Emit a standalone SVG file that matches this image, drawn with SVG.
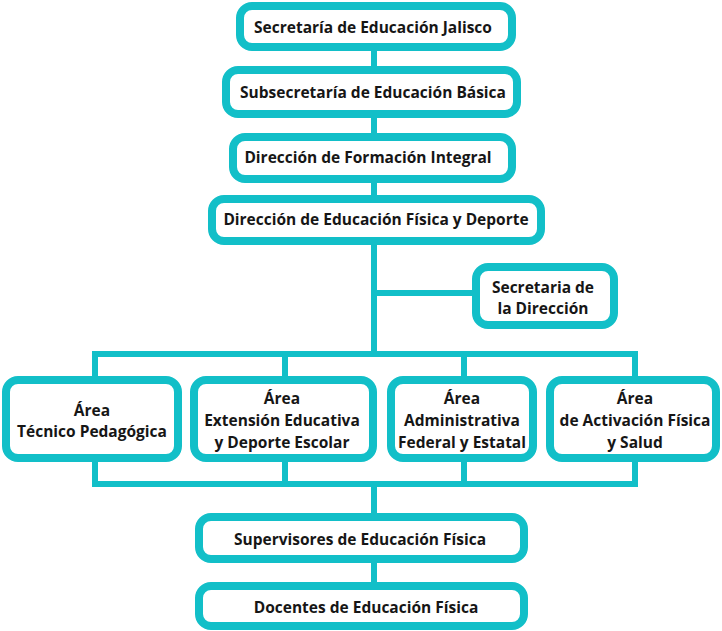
<svg xmlns="http://www.w3.org/2000/svg" width="722" height="631" viewBox="0 0 722 631">
<style>
.box{fill:#fff;stroke:#12BFC8;stroke-width:8}
.ln{fill:none;stroke:#12BFC8;stroke-width:6}
text{font-family:"Open Sans","Noto Sans","DejaVu Sans",sans-serif;font-weight:700;font-size:15.5px;fill:#161616;text-anchor:middle;dominant-baseline:central}
</style>
<rect width="722" height="631" fill="#fff"/>
<g id="connectors">
<path class="ln" d="M374 50V70M374 118V137M374 183V199M374 245V354M374 293H476M95 354H635M95 351V380M285 351V380M464 351V380M635 351V380"/>
<path class="ln" d="M95 458V484M285 458V484M464 458V484M635 458V484M92 484H638M374 484V517M374 563V586"/>
</g>
<g id="n1"><rect class="box" x="240" y="6" width="272" height="41" rx="12"/><text x="373" y="27">Secretaría de Educación Jalisco</text></g>
<g id="n2"><rect class="box" x="226" y="70" width="291" height="44" rx="12"/><text x="373" y="92">Subsecretaría de Educación Básica</text></g>
<g id="n3"><rect class="box" x="233" y="137" width="279" height="42" rx="12"/><text x="368" y="157">Dirección de Formación Integral</text></g>
<g id="n4"><rect class="box" x="212" y="199" width="329" height="42" rx="12"/><text x="376" y="219">Dirección de Educación Física y Deporte</text></g>
<g id="n5"><rect class="box" x="476" y="267" width="138" height="58" rx="12"/><text x="543" y="287">Secretaria de</text><text x="543" y="308">la Dirección</text></g>
<g id="a1"><rect class="box" x="6" y="380" width="172" height="78" rx="12"/><text x="92" y="410">Área</text><text x="92" y="431">Técnico Pedagógica</text></g>
<g id="a2"><rect class="box" x="194" y="380" width="179" height="78" rx="12"/><text x="282" y="398">Área</text><text x="282" y="420">Extensión Educativa</text><text x="282" y="442">y Deporte Escolar</text></g>
<g id="a3"><rect class="box" x="391" y="380" width="142" height="78" rx="12"/><text x="462" y="398">Área</text><text x="462" y="420">Administrativa</text><text x="462" y="442">Federal y Estatal</text></g>
<g id="a4"><rect class="box" x="550" y="380" width="166" height="78" rx="12"/><text x="635" y="398">Área</text><text x="635" y="420">de Activación Física</text><text x="635" y="442">y Salud</text></g>
<g id="n6"><rect class="box" x="199" y="517" width="325" height="42" rx="12"/><text x="360" y="539">Supervisores de Educación Física</text></g>
<g id="n7"><rect class="box" x="199" y="586" width="325" height="40" rx="12"/><text x="366" y="607">Docentes de Educación Física</text></g>
</svg>
